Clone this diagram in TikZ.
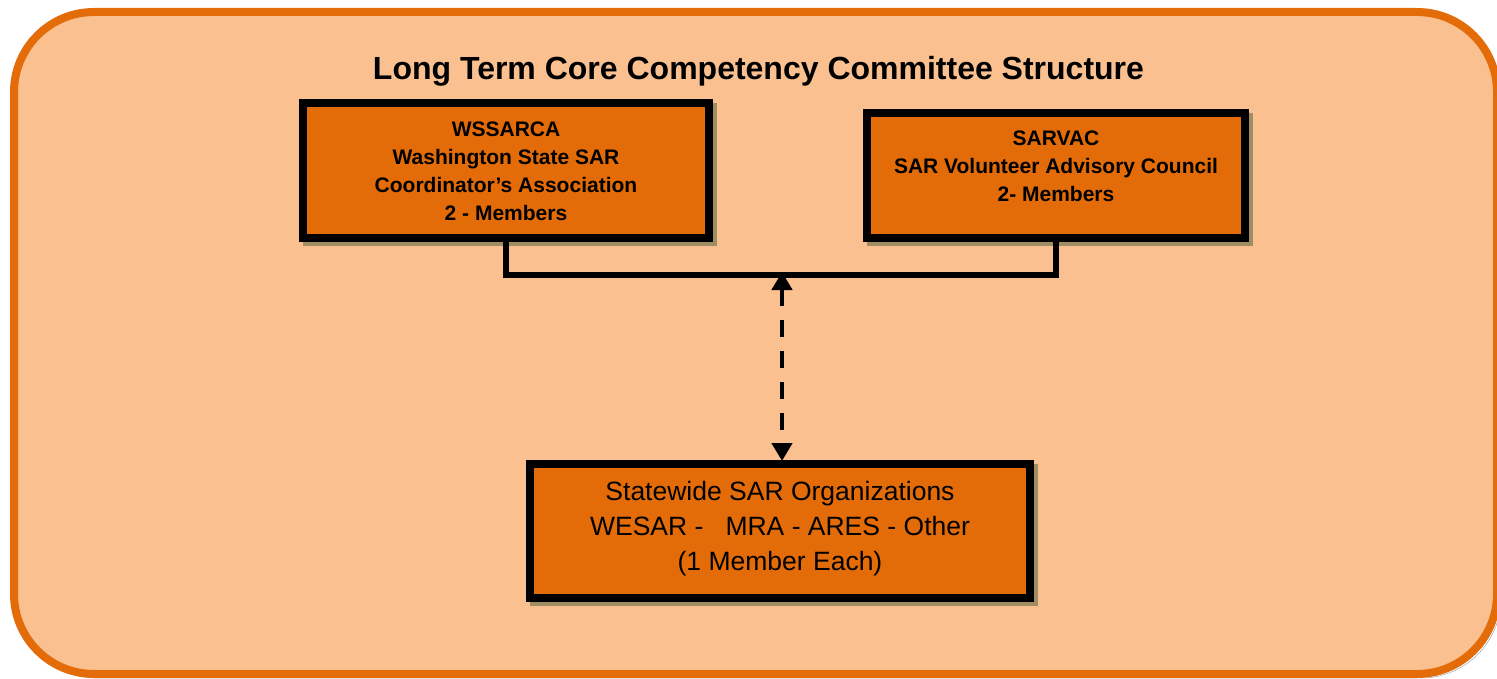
\documentclass[tikz,border=0pt]{standalone}
\usepackage{fontspec}
\setmainfont{Liberation Sans}
\usetikzlibrary{arrows.meta}
\definecolor{pagebg}{HTML}{FAC090}
\definecolor{frameorange}{HTML}{E36C09}
\definecolor{boxorange}{HTML}{E36C09}
\definecolor{boxshadow}{HTML}{9F8E63}
\definecolor{frameshadow}{HTML}{8C9BAF}
\begin{document}
\begin{tikzpicture}[x=1pt,y=-1pt,
  orgbox/.style={draw=black, line width=8pt, fill=boxorange, inner sep=0pt,
    preaction={draw=boxshadow, fill=boxshadow, transform canvas={xshift=4pt,yshift=-4pt}}},
  boldtxt/.style={font=\bfseries\fontsize{21}{28}\selectfont, align=center, inner sep=0pt, anchor=north},
  plaintxt/.style={font=\fontsize{26.5}{35}\selectfont, align=center, inner sep=0pt, anchor=north},
  titletxt/.style={font=\bfseries\fontsize{32}{38}\selectfont, inner sep=0pt, anchor=base},
  joinline/.style={line width=5.5pt, draw=black},
  dasharrow/.style={line width=4.5pt, draw=black, dash pattern=on 17pt off 14pt,
    {Triangle[width=20pt,length=18pt]}-{Triangle[width=20pt,length=18pt]}}
]
\useasboundingbox (0,0) rectangle (1497,679);
% outer frame
\draw[frameorange, line width=8pt, fill=pagebg, rounded corners=80pt,
  preaction={draw=frameshadow, transform canvas={xshift=4pt,yshift=-4pt}}]
  (14,12) rectangle (1497,674);
% title
\node[titletxt] (title) at (758.5,80) {Long Term Core Competency Committee Structure};
% boxes
\node[orgbox, minimum width=406pt, minimum height=135pt] (wss) at (506,170.5) {};
\node[orgbox, minimum width=378pt, minimum height=125pt] (sar) at (1056,175.5) {};
\node[orgbox, minimum width=500pt, minimum height=134pt] (org) at (780,531) {};
% texts
\node[boldtxt] (wsstext) at (506,116) {\rule{0pt}{20pt}WSSARCA\\Washington State SAR\\Coordinator’s Association\\2 - Members};
\node[boldtxt] (sartext) at (1056,125.7) {\rule{0pt}{20pt}SARVAC\\SAR Volunteer Advisory Council\\2- Members};
\node[plaintxt] (orgtext) at (780,474) {\rule{0pt}{26pt}Statewide SAR Organizations\\WESAR -\ \ \ MRA - ARES - Other\\(1 Member Each)};
% connectors
\draw[joinline] (wss.south) -- ++(0,33) -| (sar.south);
\coordinate (junc) at (782,272);
\draw[dasharrow] (junc) -- ([yshift=-1pt]junc |- org.north);
\end{tikzpicture}
\end{document}
